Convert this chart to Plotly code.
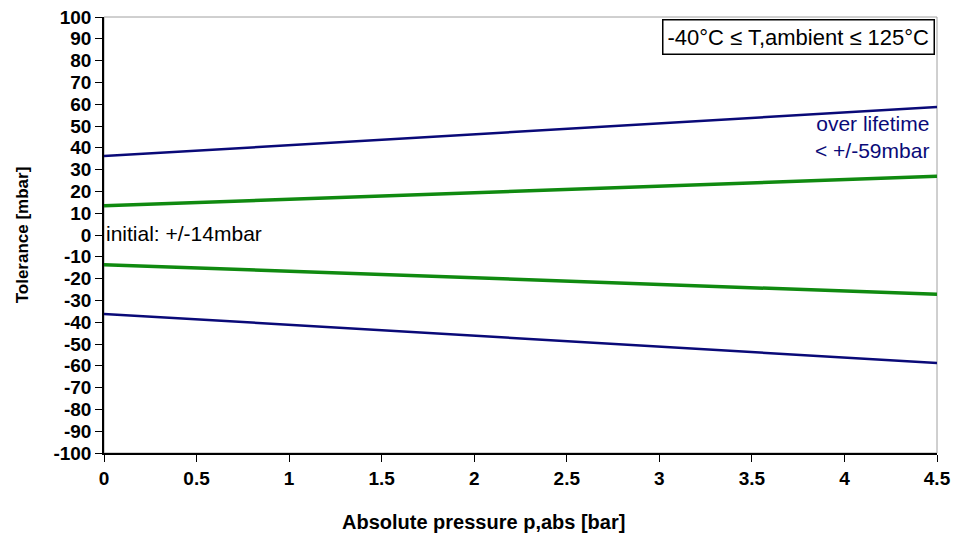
import plotly.graph_objects as go

pressure = [0, 4.5]
lifetime_upper = [36.2, 58.7]
initial_upper = [13.4, 26.9]
initial_lower = [-13.6, -27.2]
lifetime_lower = [-36.2, -58.7]

x_ticks = [0, 0.5, 1, 1.5, 2, 2.5, 3, 3.5, 4, 4.5]
x_tick_text = ["0", "0.5", "1", "1.5", "2", "2.5", "3", "3.5", "4", "4.5"]
y_ticks = list(range(-100, 101, 10))
y_tick_text = [str(v) for v in y_ticks]

navy = "#0a0a78"
green = "#108a10"
FONT = "Liberation Sans, Arial, sans-serif"

fig = go.Figure()
for y, c, w in [(lifetime_upper, navy, 2.5), (initial_upper, green, 3.5),
                (initial_lower, green, 3.5), (lifetime_lower, navy, 2.5)]:
    fig.add_trace(go.Scatter(x=pressure, y=y, mode="lines",
                             line=dict(color=c, width=w), showlegend=False,
                             hoverinfo="skip"))

fig.update_layout(
    width=956, height=533,
    margin=dict(l=104, r=19, t=17, b=80),
    paper_bgcolor="white", plot_bgcolor="white",
    font=dict(family=FONT),
    xaxis=dict(range=[0, 4.5], tickvals=x_ticks, ticktext=x_tick_text,
               ticks="outside", ticklen=7, tickcolor="black", tickwidth=1,
               showline=True, linecolor="black", linewidth=1.5,
               showgrid=False, zeroline=False, automargin=False,
               tickfont=dict(family=FONT, size=19, color="black", weight="bold")),
    yaxis=dict(range=[-100, 100], tickvals=y_ticks, ticktext=y_tick_text,
               ticks="outside", ticklen=7, tickcolor="black", tickwidth=1,
               showline=True, linecolor="black", linewidth=1.5,
               showgrid=False, zeroline=False, automargin=False,
               tickfont=dict(family=FONT, size=19, color="black", weight="bold"),
               title=dict(text="<b>Tolerance [mbar]</b>",
                          font=dict(family=FONT, size=17, color="black"), standoff=20)),
    shapes=[dict(type="rect", xref="paper", yref="paper", x0=0, x1=1, y0=0, y1=1,
                 line=dict(color="#a0a0a0", width=1), layer="below")],
    annotations=[
        dict(text="<b>Absolute pressure p,abs [bar]</b>", xref="paper", yref="paper",
             x=0.456, y=-0.158, xanchor="center", yanchor="middle", showarrow=False,
             font=dict(family=FONT, size=20, color="black")),
        dict(text="-40°C ≤ T,ambient ≤ 125°C", xref="paper", yref="paper",
             x=0.9975, y=0.995, xanchor="right", yanchor="top", showarrow=False,
             font=dict(family=FONT, size=22, color="black"),
             bordercolor="black", borderwidth=1.5, borderpad=4, bgcolor="white"),
        dict(text="over lifetime<br>< +/-59mbar", x=4.47, y=45, xanchor="right", yanchor="middle",
             align="right", showarrow=False,
             font=dict(family=FONT, size=21, color=navy)),
        dict(text="initial: +/-14mbar", x=0.0, y=0.5, xanchor="left", yanchor="middle",
             showarrow=False,
             font=dict(family=FONT, size=21, color="black")),
    ],
)

fig.write_html("out.html")
